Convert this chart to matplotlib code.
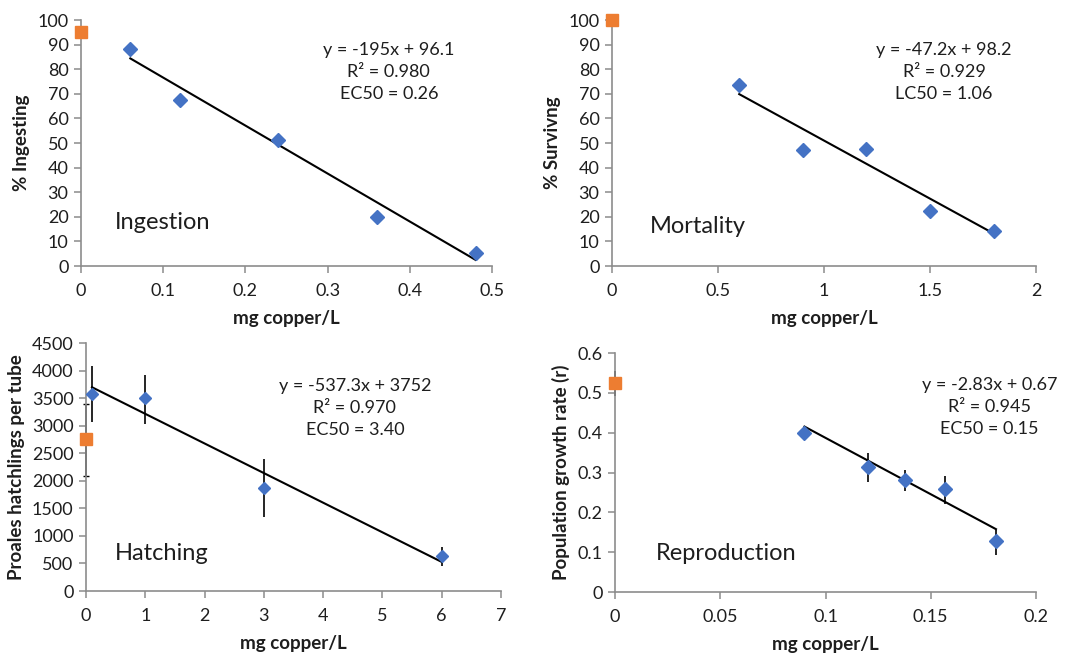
import numpy as np
import matplotlib
matplotlib.use("Agg")
import matplotlib.pyplot as plt
from matplotlib.ticker import FuncFormatter

plt.rcParams['font.family'] = ['Lato', 'DejaVu Sans']

BLUE = '#4472C4'
ORANGE = '#ED7D31'
AXIS_GRAY = '#8c8c8c'
TEXT = '#1e1e1e'

# Ingestion
ing_ctrl = 95.0
ing_x = [0.06, 0.12, 0.24, 0.36, 0.48]
ing_y = [88.1, 67.6, 51.2, 19.8, 5.4]
ing_fit = (-195.0, 96.1)
ing_text = "y = -195x + 96.1\nR² = 0.980\nEC50 = 0.26"

# Mortality
mort_ctrl = 100.0
mort_x = [0.6, 0.9, 1.2, 1.5, 1.8]
mort_y = [73.7, 47.0, 47.7, 22.4, 14.4]
mort_fit = (-47.2, 98.2)
mort_text = "y = -47.2x + 98.2\nR² = 0.929\nLC50 = 1.06"

# Hatching
hat_ctrl = 2760
hat_ctrl_err = (2093, 3390)
hat_x = [0.1, 1, 3, 6]
hat_y = [3580, 3496, 1869, 629]
hat_lo = [3061, 3031, 1337, 448]
hat_hi = [4089, 3920, 2396, 792]
hat_fit = (-537.3, 3752)
hat_text = "y = -537.3x + 3752\nR² = 0.970\nEC50 = 3.40"

# Reproduction
rep_ctrl = 0.525
rep_ctrl_err = (0.491, 0.556)
rep_x = [0.09, 0.12, 0.138, 0.157, 0.181]
rep_y = [0.399, 0.313, 0.281, 0.258, 0.127]
rep_lo = [0.389, 0.277, 0.254, 0.222, 0.092]
rep_hi = [0.409, 0.350, 0.307, 0.292, 0.156]
rep_fit = (-2.83, 0.67)
rep_text = "y = -2.83x + 0.67\nR² = 0.945\nEC50 = 0.15"

fig = plt.figure(figsize=(10.7, 6.53), dpi=100)


def style_axes(ax, xmax, xstep, ymax, ystep, ylabel):
    ax.set_xlim(0, xmax)
    ax.set_ylim(0, ymax)
    ax.set_xticks(np.arange(0, xmax + xstep / 2, xstep))
    ax.set_yticks(np.arange(0, ymax + ystep / 2, ystep))
    ax.xaxis.set_major_formatter(FuncFormatter(lambda v, p: '%g' % round(v, 6)))
    ax.yaxis.set_major_formatter(FuncFormatter(lambda v, p: '%g' % round(v, 6)))
    for s in ['top', 'right']:
        ax.spines[s].set_visible(False)
    for s in ['left', 'bottom']:
        ax.spines[s].set_color(AXIS_GRAY)
        ax.spines[s].set_linewidth(1.2)
    ax.tick_params(direction='out', length=5, width=1.1, color=AXIS_GRAY,
                   labelsize=13, labelcolor=TEXT)
    ax.tick_params(axis='x', pad=7)
    ax.tick_params(axis='y', pad=4)
    ax.set_xlabel('mg copper/L', fontsize=13.5, fontweight='bold', color=TEXT, labelpad=8)
    ax.set_ylabel(ylabel, fontsize=13.5, fontweight='bold', color=TEXT, labelpad=5)


def draw_fit(ax, xs, fit):
    xa = np.array([min(xs), max(xs)])
    ax.plot(xa, fit[0] * xa + fit[1], color='black', lw=1.5, zorder=2)


# panel 1
ax1 = fig.add_axes([0.0757, 0.5926, 0.3841, 0.3767])
style_axes(ax1, 0.5, 0.1, 100, 10, '% Ingesting')
draw_fit(ax1, ing_x, ing_fit)
ax1.plot(ing_x, ing_y, 'D', color=BLUE, ms=7, zorder=3, clip_on=False)
ax1.plot([0], [ing_ctrl], 's', color=ORANGE, ms=9, zorder=4, clip_on=False)
ax1.text(0.749, 0.789, ing_text, transform=ax1.transAxes, ha='center', va='center',
         fontsize=13, color=TEXT, linespacing=1.45)
ax1.text(0.083, 0.179, 'Ingestion', transform=ax1.transAxes, ha='left', va='center',
         fontsize=17, color=TEXT)

# panel 2
ax2 = fig.add_axes([0.572, 0.5926, 0.3962, 0.3767])
style_axes(ax2, 2, 0.5, 100, 10, '% Survivng')
draw_fit(ax2, mort_x, mort_fit)
ax2.plot(mort_x, mort_y, 'D', color=BLUE, ms=7, zorder=3, clip_on=False)
ax2.plot([0], [mort_ctrl], 's', color=ORANGE, ms=9, zorder=4, clip_on=False)
ax2.text(0.783, 0.789, mort_text, transform=ax2.transAxes, ha='center', va='center',
         fontsize=13, color=TEXT, linespacing=1.45)
ax2.text(0.09, 0.159, 'Mortality', transform=ax2.transAxes, ha='left', va='center',
         fontsize=17, color=TEXT)

# panel 3
ax3 = fig.add_axes([0.0804, 0.0949, 0.3878, 0.3798])
style_axes(ax3, 7, 1, 4500, 500, 'Proales hatchlings per tube')
draw_fit(ax3, hat_x, hat_fit)
hat_err = [np.array(hat_y) - np.array(hat_lo), np.array(hat_hi) - np.array(hat_y)]
ax3.errorbar(hat_x, hat_y, yerr=hat_err, fmt='none', ecolor='black', elinewidth=1.2, zorder=2)
ax3.plot(hat_x, hat_y, 'D', color=BLUE, ms=6, zorder=3, clip_on=False)
ax3.errorbar([0], [hat_ctrl], yerr=[[hat_ctrl - hat_ctrl_err[0]], [hat_ctrl_err[1] - hat_ctrl]],
             fmt='none', ecolor='black', elinewidth=1.2, capsize=2, zorder=2, clip_on=False)
ax3.plot([0], [hat_ctrl], 's', color=ORANGE, ms=8, zorder=4, clip_on=False)
ax3.text(0.648, 0.738, hat_text, transform=ax3.transAxes, ha='center', va='center',
         fontsize=13, color=TEXT, linespacing=1.45)
ax3.text(0.07, 0.153, 'Hatching', transform=ax3.transAxes, ha='left', va='center',
         fontsize=17, color=TEXT)

# panel 4
ax4 = fig.add_axes([0.5748, 0.0934, 0.3934, 0.366])
style_axes(ax4, 0.2, 0.05, 0.6, 0.1, 'Population growth rate (r)')
draw_fit(ax4, rep_x, rep_fit)
rep_err = [np.array(rep_y) - np.array(rep_lo), np.array(rep_hi) - np.array(rep_y)]
ax4.errorbar(rep_x, rep_y, yerr=rep_err, fmt='none', ecolor='black', elinewidth=1.2, zorder=2)
ax4.plot(rep_x, rep_y, 'D', color=BLUE, ms=7, zorder=3, clip_on=False)
ax4.errorbar([0], [rep_ctrl], yerr=[[rep_ctrl - rep_ctrl_err[0]], [rep_ctrl_err[1] - rep_ctrl]],
             fmt='none', ecolor='black', elinewidth=1.2, zorder=2, clip_on=False)
ax4.plot([0], [rep_ctrl], 's', color=ORANGE, ms=9, zorder=4, clip_on=False)
ax4.text(0.89, 0.774, rep_text, transform=ax4.transAxes, ha='center', va='center',
         fontsize=13, color=TEXT, linespacing=1.45)
ax4.text(0.097, 0.163, 'Reproduction', transform=ax4.transAxes, ha='left', va='center',
         fontsize=17, color=TEXT)

fig.savefig('out.png', dpi=100)
